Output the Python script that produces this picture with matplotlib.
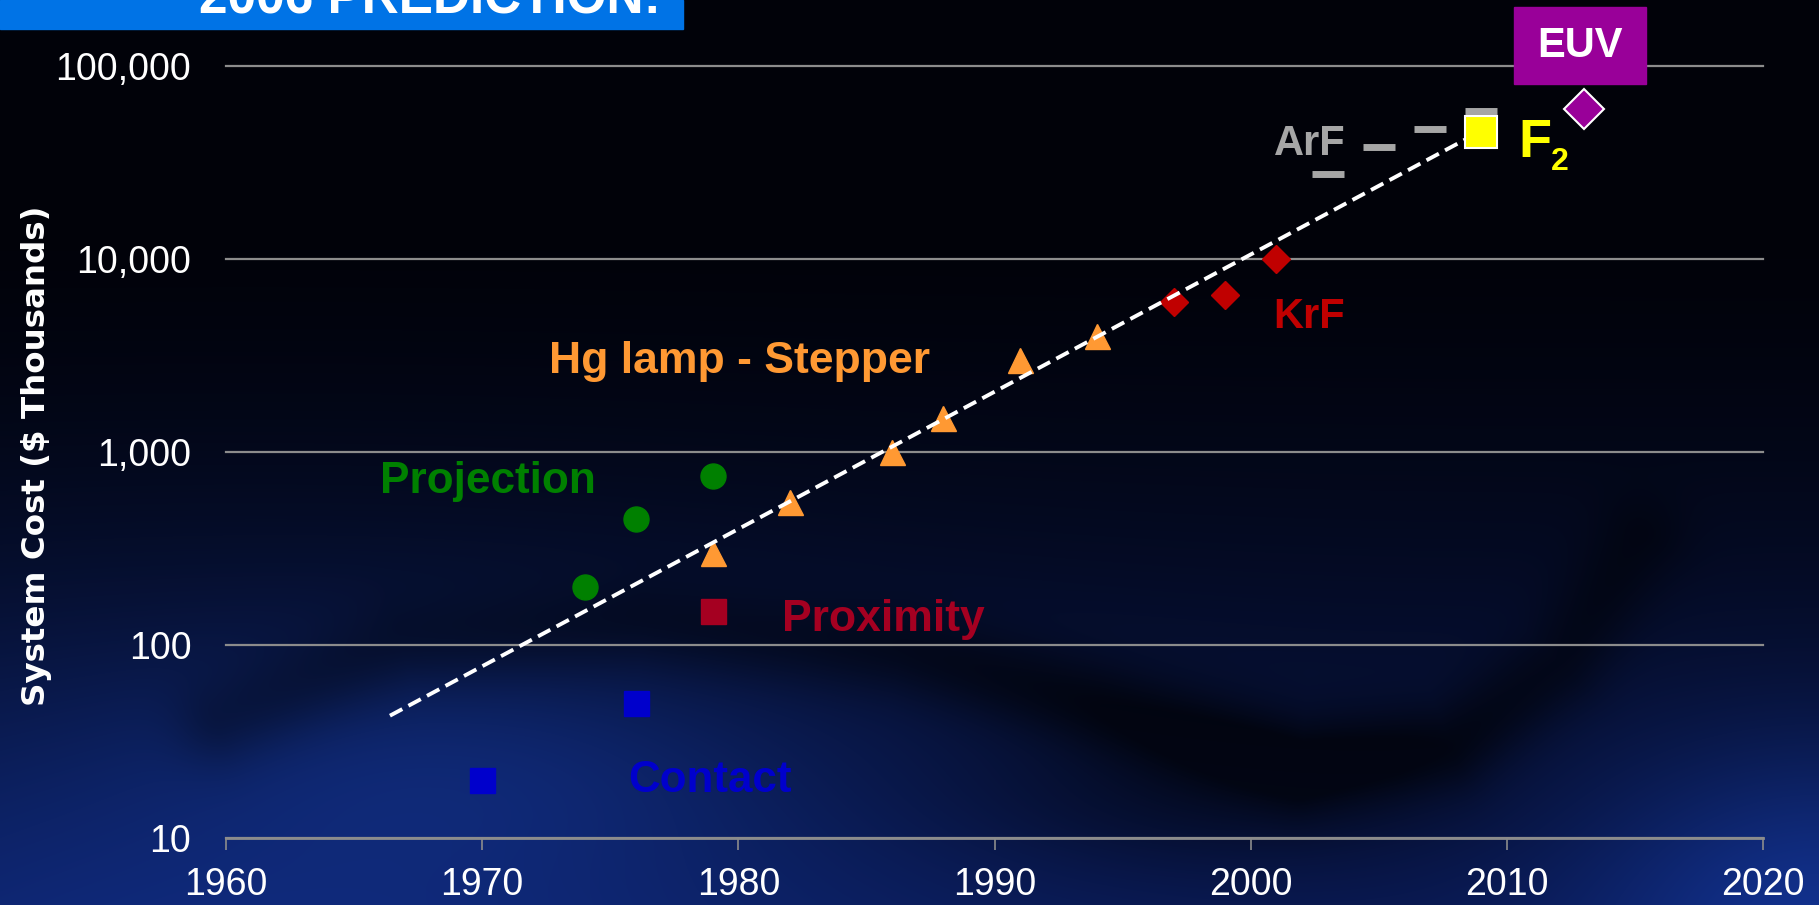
import numpy as np
import matplotlib
matplotlib.use("Agg")
import matplotlib.pyplot as plt
from matplotlib.patches import Rectangle
from matplotlib.ticker import FixedLocator, FuncFormatter, NullLocator

W, H, DPI = 1819, 905, 100

# lithography tool cost ($ thousands) against year of introduction
contact_years = [1970, 1976]
contact_cost = [20, 50]
proximity_years = [1979]
proximity_cost = [150]
projection_years = [1974, 1976, 1979]
projection_cost = [200, 450, 750]
stepper_years = [1979, 1982, 1986, 1988, 1991, 1994]
stepper_cost = [300, 550, 1000, 1500, 3000, 4000]
krf_years = [1997, 1999, 2001]
krf_cost = [6000, 6500, 10000]
arf_years = [2003, 2005, 2007, 2009]
arf_cost = [27500, 38000, 47000, 58500]
f2_years = [2009]
f2_cost = [45500]
euv_years = [2013]
euv_cost = [60000]

# exponential trend through the history
trend_years = [1966.4, 2008.6]
trend_cost = [43, 43000]

year_ticks = [1960, 1970, 1980, 1990, 2000, 2010, 2020]
cost_ticks = [10, 100, 1000, 10000, 100000]

LABEL = dict(family=["Liberation Sans", "DejaVu Sans"], fontweight="bold")
TICKFONT = ["Liberation Sans", "DejaVu Sans"]


def background():
    yy, xx = np.mgrid[0:H, 0:W].astype(float)
    v = yy / H
    # near-black top fading into navy towards the bottom
    b = np.clip((v - 0.25) / 0.75, 0, 1) ** 1.4
    r = 1 + 8 * b
    g = 2 + 22 * b
    bl = 9 + 70 * b

    def blob(cx, cy, rx, ry):
        return np.exp(-(((xx - cx) / rx) ** 2 + ((yy - cy) / ry) ** 2))

    light = (0.75 * blob(250, 905, 650, 300) + 0.45 * blob(480, 760, 300, 110)
             + 1.1 * blob(1819, 905, 230, 170))
    r = r + 8 * light
    g = g + 22 * light
    bl = bl + 55 * light

    # dark sweeping band across the lower half
    pts = np.array([(220, 720), (400, 640), (640, 622), (900, 650),
                    (1100, 705), (1300, 765), (1450, 745), (1560, 665),
                    (1640, 540)], float)
    dist = np.full(xx.shape, 1e9)
    for (x0, y0), (x1, y1) in zip(pts[:-1], pts[1:]):
        dx, dy = x1 - x0, y1 - y0
        t = np.clip(((xx - x0) * dx + (yy - y0) * dy) / (dx * dx + dy * dy), 0, 1)
        d = np.hypot(xx - (x0 + t * dx), yy - (y0 + t * dy))
        dist = np.minimum(dist, d)
    strength = np.interp(xx, [200, 800, 1100, 1400, 1650],
                         [0.3, 0.4, 0.6, 0.6, 0.4])
    dark = strength * np.exp(-(dist / 45) ** 2) + 0.4 * blob(1220, 790, 240, 80)
    f = np.clip(1 - dark, 0.3, 1)
    img = np.dstack([r * f, g * f, bl * f]) / 255.0
    return np.clip(img, 0, 1)


fig = plt.figure(figsize=(W / DPI, H / DPI), dpi=DPI)
bg = fig.add_axes([0, 0, 1, 1], zorder=-10)
bg.imshow(background(), aspect="auto", interpolation="bilinear")
bg.axis("off")

ax = fig.add_axes([226 / W, 67 / H, 1537 / W, 772.3 / H])
ax.set_facecolor("none")
ax.set_yscale("log")
ax.set_xlim(1960, 2020)
ax.set_ylim(10, 100000)

ax.yaxis.set_major_locator(FixedLocator(cost_ticks))
ax.yaxis.set_minor_locator(NullLocator())
ax.yaxis.set_major_formatter(FuncFormatter(lambda v, p: f"{int(v):,}"))
ax.xaxis.set_major_locator(FixedLocator(year_ticks))

ax.yaxis.grid(True, color="#8c8c8c", lw=1.6)
for gl in ax.get_ygridlines():
    gl.set_clip_on(False)
for s in ("left", "top", "right"):
    ax.spines[s].set_visible(False)
ax.spines["bottom"].set_color("#8c8c8c")
ax.spines["bottom"].set_linewidth(2)
ax.tick_params(axis="y", length=0, pad=25, colors="white", labelsize=27)
ax.tick_params(axis="x", length=8.6, width=1.2, color="#8c8c8c", pad=12,
               labelcolor="white", labelsize=27)
for lab in ax.get_xticklabels() + ax.get_yticklabels():
    lab.set_family(TICKFONT)

ax.set_ylabel("System Cost ($ Thousands)", color="white", fontsize=23.4,
              family="DejaVu Sans", fontweight="bold")
ax.yaxis.set_label_coords(-0.1132, 0.495)

# data series
ax.plot(contact_years, contact_cost, ls="none", marker="s", ms=18,
        color="#0000cc", mec="#0000cc", zorder=3)
ax.plot(proximity_years, proximity_cost, ls="none", marker="s", ms=18,
        color="#a50021", mec="#a50021", zorder=3)
ax.plot(projection_years, projection_cost, ls="none", marker="o", ms=18,
        color="#008000", mec="#008000", zorder=3)
ax.plot(stepper_years, stepper_cost, ls="none", marker="^", ms=18,
        color="#ff9933", mec="#ff9933", zorder=3)
ax.plot(krf_years, krf_cost, ls="none", marker="D", ms=14.4,
        color="#c00000", mec="#c00000", zorder=3)
ax.plot(arf_years, arf_cost, ls="none", marker="_", ms=22.5, mew=5,
        color="#a6a6a6", zorder=3)

ax.plot(trend_years, trend_cost, color="white", lw=2.8, dashes=(3.6, 1.8),
        zorder=4)

ax.plot(f2_years, f2_cost, ls="none", marker="s", ms=23, color="#ffff00",
        mec="white", mew=1.5, zorder=5)
ax.plot(euv_years, euv_cost, ls="none", marker="D", ms=20.5, color="#990099",
        mec="white", mew=1.5, zorder=5, clip_on=False)

# series labels
ax.text(1972.6, 2565, "Hg lamp - Stepper", color="#ff9933", fontsize=32,
        va="baseline", **LABEL)
ax.text(1966.0, 614, "Projection", color="#008000", fontsize=31.8,
        va="baseline", **LABEL)
ax.text(1981.7, 118, "Proximity", color="#a50021", fontsize=32,
        va="baseline", **LABEL)
ax.text(1975.7, 17.3, "Contact", color="#0000cc", fontsize=31.7,
        va="baseline", **LABEL)
ax.text(2000.9, 4385, "KrF", color="#c00000", fontsize=30,
        va="baseline", **LABEL)
ax.text(2000.9, 34600, "ArF", color="#a6a6a6", fontsize=30,
        va="baseline", **LABEL)
ax.text(2010.45, 33700, "F", color="#ffff00", fontsize=39,
        va="baseline", **LABEL)
ax.text(2011.7, 28900, "2", color="#ffff00", fontsize=23,
        va="baseline", **LABEL)

# EUV tag above the plot
fig.patches.append(Rectangle((1514 / W, 1 - 84 / H), 132 / W, 77 / H,
                             transform=fig.transFigure, color="#990099",
                             zorder=6))
fig.text(1580 / W, 1 - 46 / H, "EUV", color="white", fontsize=30,
         ha="center", va="center", zorder=7, **LABEL)

# slide header strip
fig.patches.append(Rectangle((0, 1 - 29 / H), 683 / W, 29 / H,
                             transform=fig.transFigure, color="#0073e6",
                             zorder=6))
fig.text(199 / W, 1 - 13 / H, "2006 PREDICTION:", color="white", fontsize=37,
         va="baseline", zorder=7, **LABEL)

fig.savefig("out.png", dpi=DPI)
